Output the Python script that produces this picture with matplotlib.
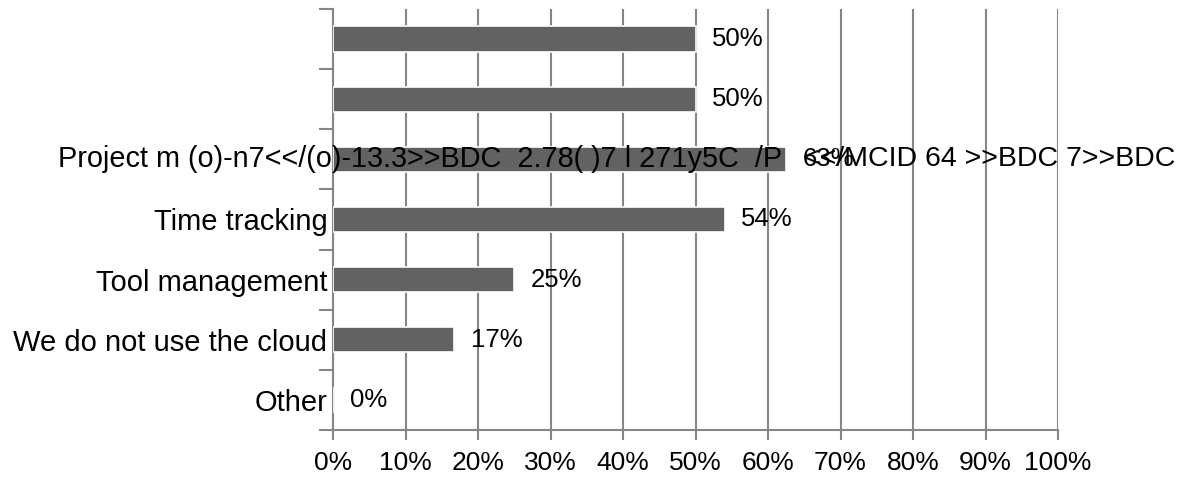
import matplotlib.pyplot as plt

categories = ["", "", "", "Time tracking", "Tool management",
              "We do not use the cloud", "Other"]
values = [50, 50, 62.5, 54, 25, 16.7, 0]
value_labels = ["50%", "50%", "63%", "54%", "25%", "17%", "0%"]
xticks = [0, 10, 20, 30, 40, 50, 60, 70, 80, 90, 100]

# broken text fragments that sit on the third row
garbled_left = "Project m (o)-n7<</(o)-13.3>>BDC  2.78( )7 l 271y5C  /P"
garbled_right = "<</MCID 64 >>BDC 7>>BDC"

plt.rcParams["font.family"] = ["Liberation Sans", "DejaVu Sans"]

fig = plt.figure(figsize=(11.77, 4.78), dpi=100)
ax = fig.add_axes([333 / 1177, 1 - 430 / 478, (1058 - 333) / 1177, 421 / 478])

grey = "#868686"
y = list(range(len(categories)))
ax.barh(y, values, height=0.42, color="#626262", edgecolor="white",
        linewidth=1.2, zorder=3)

for yi, v, lab in zip(y, values, value_labels):
    ax.annotate(lab, (v, yi), xytext=(12, 0), textcoords="offset points",
                ha="left", va="center", fontsize=18.5, color="black", zorder=5)

# third row garbage text
ax.annotate(garbled_right, (values[2], 2), xytext=(12, 0),
            textcoords="offset points", ha="left", va="center",
            fontsize=20.5, color="black", zorder=5, annotation_clip=False)
ax.annotate(garbled_left, (values[2], 2), xytext=(-3, 0),
            textcoords="offset points", ha="right", va="center",
            fontsize=20.8, color="black", zorder=5, annotation_clip=False)

ax.set_xlim(0, 100)
ax.set_ylim(len(categories) - 0.5, -0.5)
ax.set_xticks(xticks)
ax.set_xticklabels([f"{t}%" for t in xticks], fontsize=19)

ax.set_yticks(y)
ax.set_yticklabels(categories, fontsize=21)
ax.tick_params(axis="y", length=0, pad=4)
ax.set_yticks([i - 0.5 for i in range(len(categories) + 1)], minor=True)
ax.tick_params(axis="y", which="minor", length=10, color=grey, width=1.5)
ax.tick_params(axis="x", length=7, color=grey, width=1.5, pad=8)

ax.grid(axis="x", color=grey, linewidth=1.5, zorder=0)
ax.set_axisbelow(True)
for s in ["top", "right"]:
    ax.spines[s].set_visible(False)
for s in ["left", "bottom"]:
    ax.spines[s].set_color(grey)
    ax.spines[s].set_linewidth(1.5)

fig.savefig("out.png", dpi=100)
